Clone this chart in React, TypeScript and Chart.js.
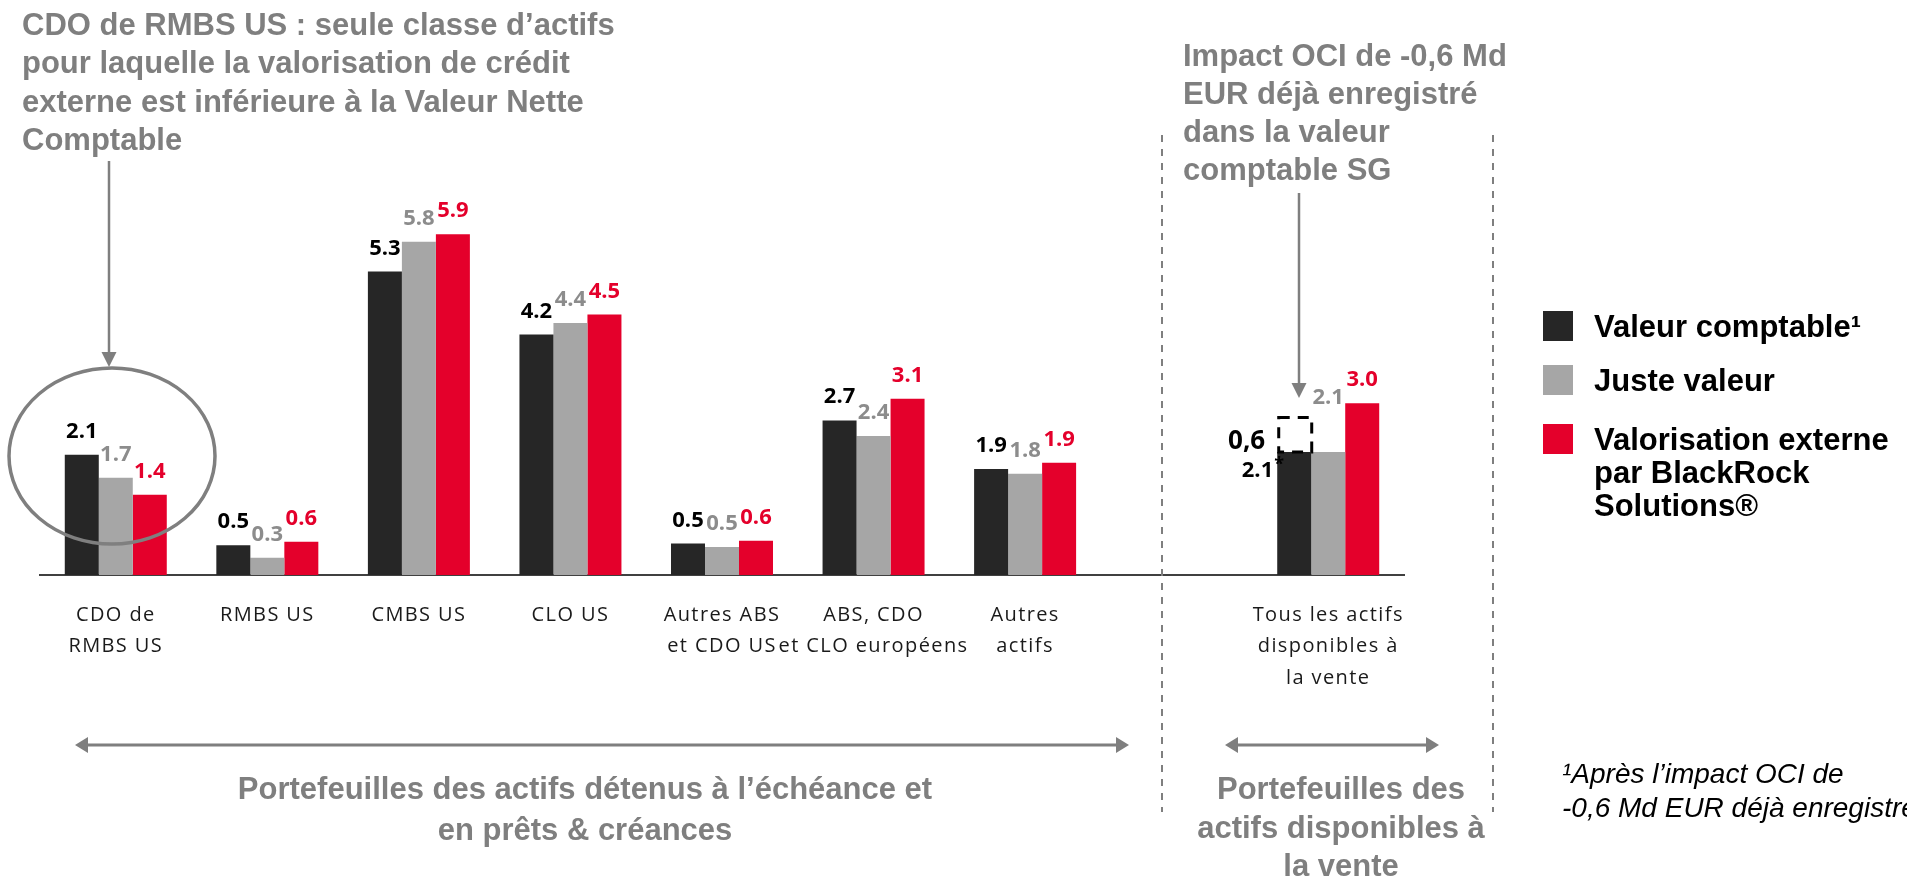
import React, { useEffect, useRef } from 'react';
import { Chart, registerables } from 'chart.js';

Chart.register(...registerables);

// ---------- data ----------
const categories: (string | string[])[] = [
  ['CDO de', 'RMBS US'],
  'RMBS US',
  'CMBS US',
  'CLO US',
  ['Autres ABS', 'et CDO US'],
  ['ABS, CDO', 'et CLO européens'],
  ['Autres', 'actifs'],
  '',
  ['Tous les actifs', 'disponibles à', 'la vente'],
];

const seriesNames = ['Valeur comptable', 'Juste valeur', 'Valorisation externe par BlackRock Solutions®'];

const valeurComptable = [2.1, 0.52, 5.3, 4.2, 0.55, 2.7, 1.85, null, 2.15];
const justeValeur = [1.7, 0.3, 5.82, 4.4, 0.49, 2.43, 1.77, null, 2.15];
const valorisationExterne = [1.4, 0.58, 5.95, 4.55, 0.6, 3.08, 1.96, null, 3.0];

const labelsComptable = ['2.1', '0.5', '5.3', '4.2', '0.5', '2.7', '1.9', '', '2.1*'];
const labelsJuste = ['1.7', '0.3', '5.8', '4.4', '0.5', '2.4', '1.8', '', '2.1'];
const labelsExterne = ['1.4', '0.6', '5.9', '4.5', '0.6', '3.1', '1.9', '', '3.0'];

const ociImpact = 0.6;
const ociLabel = '0,6';
const afsIndex = 8;

const noteLeft = [
  'CDO de RMBS US : seule classe d’actifs',
  'pour laquelle la valorisation de crédit',
  'externe est inférieure à la Valeur Nette',
  'Comptable',
];
const noteOci = ['Impact OCI de -0,6 Md', 'EUR déjà enregistré', 'dans la valeur', 'comptable SG'];
const bracketLeft = ['Portefeuilles des actifs détenus à l’échéance et', 'en prêts & créances'];
const bracketRight = ['Portefeuilles des', 'actifs disponibles à', 'la vente'];
const legendLines = [['Valeur comptable¹'], ['Juste valeur'], ['Valorisation externe', 'par BlackRock', 'Solutions®']];
const footnote = ['¹Après l’impact OCI de', '-0,6 Md EUR déjà enregistré'];

// ---------- styles ----------
const barColors = ['#262626', '#A6A6A6', '#E4002B'];
const labelColors = ['#000000', '#8C8C8C', '#E4002B'];
const noteGray = '#7F7F7F';
const ARIAL = '"Liberation Sans", Arial, sans-serif';
const SANS = '"Open Sans", sans-serif';

function arrowHead(ctx: CanvasRenderingContext2D, tx: number, ty: number, dx: number, dy: number, len: number, half: number) {
  const bx = tx - dx * len;
  const by = ty - dy * len;
  const px = -dy;
  const py = dx;
  ctx.beginPath();
  ctx.moveTo(tx, ty);
  ctx.lineTo(bx + px * half, by + py * half);
  ctx.lineTo(bx - px * half, by - py * half);
  ctx.closePath();
  ctx.fill();
}

function doubleArrow(ctx: CanvasRenderingContext2D, x1: number, x2: number, y: number) {
  ctx.beginPath();
  ctx.moveTo(x1 + 10, y);
  ctx.lineTo(x2 - 10, y);
  ctx.stroke();
  arrowHead(ctx, x1, y, -1, 0, 13, 8);
  arrowHead(ctx, x2, y, 1, 0, 13, 8);
}

export default function App() {
  const ref = useRef<HTMLCanvasElement>(null);

  useEffect(() => {
    document.body.style.margin = '0';
    document.body.style.overflow = 'hidden';
    const canvas = ref.current;
    if (!canvas) return;

    const valueLabelSets = [labelsComptable, labelsJuste, labelsExterne];

    const overlay = {
      id: 'overlay',
      beforeDraw(chart: any) {
        (chart.ctx as any).letterSpacing = '1.4px';
      },
      beforeDatasetsDraw(chart: any) {
        (chart.ctx as any).letterSpacing = '0px';
      },
      afterDatasetsDraw(chart: any) {
        const ctx: CanvasRenderingContext2D = chart.ctx;
        const ys = chart.scales.y;
        ctx.save();
        (ctx as any).letterSpacing = '0px';
        ctx.textBaseline = 'alphabetic';
        chart.data.datasets.forEach((ds: any, di: number) => {
          const meta = chart.getDatasetMeta(di);
          meta.data.forEach((bar: any, j: number) => {
            const v = ds.data[j];
            if (v == null) return;
            const { x, y, width } = bar.getProps(['x', 'y', 'width'], true);
            const text = valueLabelSets[di][j];
            const left = x - width / 2;
            ctx.fillStyle = labelColors[di];
            if (j === afsIndex && di === 0) {
              const top = ys.getPixelForValue(v + ociImpact);
              const bottom = ys.getPixelForValue(v);
              ctx.save();
              ctx.strokeStyle = '#000';
              ctx.lineWidth = 3;
              ctx.setLineDash([11, 8]);
              ctx.strokeRect(left + 1.5, top, width - 1, bottom - top);
              ctx.restore();
              ctx.textAlign = 'right';
              ctx.font = `bold 26px ${SANS}`;
              ctx.fillText(ociLabel, left - 12, bottom - 3);
              const main = text.replace('*', '');
              ctx.font = `bold 22px ${SANS}`;
              ctx.fillText(main, left - 4, bottom + 25);
              if (text.includes('*')) {
                ctx.textAlign = 'left';
                ctx.font = `bold 18px ${SANS}`;
                ctx.fillText('*', left - 3, bottom + 18);
              }
              return;
            }
            ctx.textAlign = 'center';
            ctx.font = `bold 22px ${SANS}`;
            let base = y - 17;
            if (j === afsIndex && di === 1) {
              const ref0 = chart.data.datasets[0].data[j];
              base = ys.getPixelForValue(ref0 + ociImpact) - 14;
            }
            ctx.fillText(text, x, base);
          });
        });
        ctx.restore();
      },
      afterDraw(chart: any) {
        const ctx: CanvasRenderingContext2D = chart.ctx;
        ctx.save();
        (ctx as any).letterSpacing = '0px';
        ctx.textBaseline = 'alphabetic';

        // top-left note
        ctx.fillStyle = noteGray;
        ctx.textAlign = 'left';
        ctx.font = `bold 31px ${ARIAL}`;
        noteLeft.forEach((l, i) => ctx.fillText(l, 22, 35 + i * 38.3));
        // OCI note
        noteOci.forEach((l, i) => ctx.fillText(l, 1183, 66 + i * 38));

        // arrows to circle and box
        ctx.strokeStyle = noteGray;
        ctx.lineWidth = 2.5;
        ctx.beginPath();
        ctx.moveTo(109, 161);
        ctx.lineTo(109, 356);
        ctx.stroke();
        arrowHead(ctx, 109, 367, 0, 1, 15, 7.5);
        ctx.beginPath();
        ctx.moveTo(1299, 193);
        ctx.lineTo(1299, 387);
        ctx.stroke();
        arrowHead(ctx, 1299, 398, 0, 1, 15, 7.5);

        // ellipse
        ctx.lineWidth = 3.5;
        ctx.beginPath();
        ctx.ellipse(112, 456, 103, 88, 0, 0, Math.PI * 2);
        ctx.stroke();

        // dashed separators
        ctx.save();
        ctx.lineWidth = 2;
        ctx.setLineDash([7, 7]);
        [1162, 1493].forEach((xx) => {
          ctx.beginPath();
          ctx.moveTo(xx, 135);
          ctx.lineTo(xx, 812);
          ctx.stroke();
        });
        ctx.restore();

        // bracket arrows
        ctx.lineWidth = 3;
        doubleArrow(ctx, 75, 1129, 745);
        doubleArrow(ctx, 1225, 1439, 745);

        ctx.textAlign = 'center';
        ctx.font = `bold 31px ${ARIAL}`;
        bracketLeft.forEach((l, i) => ctx.fillText(l, 585, 799 + i * 41));
        bracketRight.forEach((l, i) => ctx.fillText(l, 1341, 799 + i * 38.5));

        // legend
        const rowCenters = [326, 380, 439];
        chart.data.datasets.forEach((ds: any, i: number) => {
          ctx.fillStyle = ds.backgroundColor;
          ctx.fillRect(1543, rowCenters[i] - 15, 30, 30);
          ctx.fillStyle = '#000';
          ctx.textAlign = 'left';
          ctx.font = `bold 31px ${ARIAL}`;
          legendLines[i].forEach((l, k) => ctx.fillText(l, 1594, rowCenters[i] + 11 + k * 33));
        });

        // footnote
        ctx.fillStyle = '#000';
        ctx.font = `italic 28px ${ARIAL}`;
        ctx.textAlign = 'left';
        footnote.forEach((l, i) => ctx.fillText(l, 1562, 783 + i * 34));

        ctx.restore();
      },
    };

    const chart = new Chart(canvas, {
      type: 'bar',
      data: {
        labels: categories as any,
        datasets: [
          { label: seriesNames[0], data: valeurComptable as any, backgroundColor: barColors[0] },
          { label: seriesNames[1], data: justeValeur as any, backgroundColor: barColors[1] },
          { label: seriesNames[2], data: valorisationExterne as any, backgroundColor: barColors[2] },
        ],
      },
      options: {
        responsive: false,
        animation: false,
        devicePixelRatio: 1,
        layout: { padding: { top: 117, left: 40, right: 503, bottom: 0 } },
        datasets: { bar: { categoryPercentage: 0.673, barPercentage: 1, borderWidth: 0 } } as any,
        plugins: { legend: { display: false }, tooltip: { enabled: false }, title: { display: false } },
        scales: {
          x: {
            grid: { display: false, drawTicks: false },
            border: { display: true, color: '#404040', width: 2 },
            ticks: {
              color: '#1a1a1a',
              font: { family: SANS, size: 20, lineHeight: 1.58 },
              padding: 24,
              autoSkip: false,
              maxRotation: 0,
              minRotation: 0,
            },
            afterFit: (s: any) => {
              s.height = 302;
            },
          },
          y: { display: false, min: 0, max: 8 },
        },
      },
      plugins: [overlay],
    });

    return () => chart.destroy();
  }, []);

  return (
    <div style={{ position: 'fixed', left: 0, top: 0, width: 1907, height: 877, background: '#fff' }}>
      <canvas ref={ref} width={1907} height={877} style={{ display: 'block' }} />
    </div>
  );
}
